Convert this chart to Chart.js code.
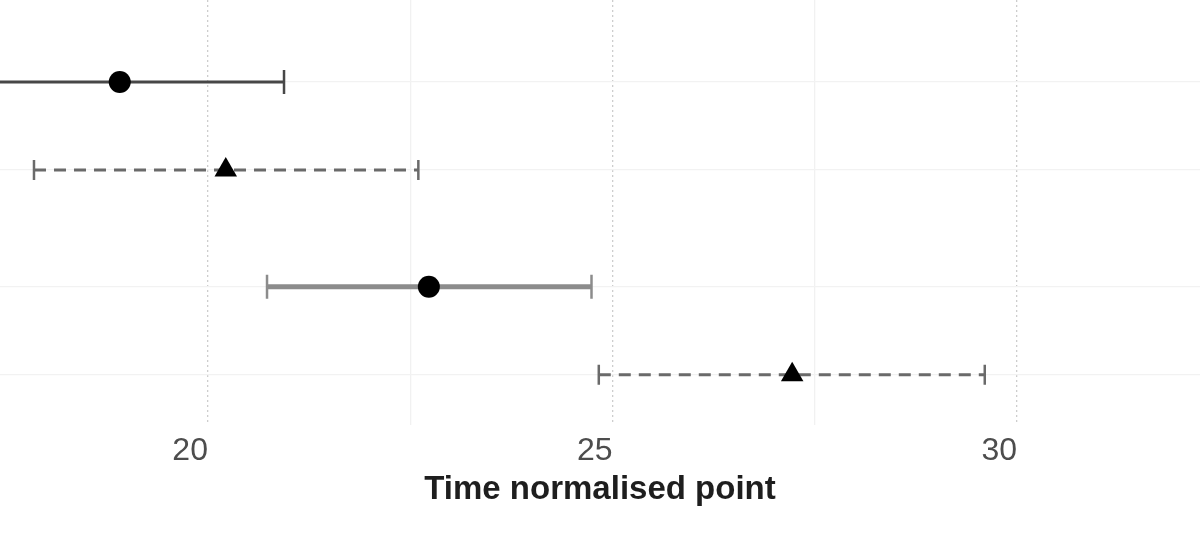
<!DOCTYPE html>
<html>
<head>
<meta charset="utf-8">
<script src="https://cdn.jsdelivr.net/npm/chart.js@4.4.0/dist/chart.umd.min.js"></script>
<style>
  html, body { margin: 0; padding: 0; background: #fff; }
  #wrap { width: 1200px; height: 543px; }
</style>
</head>
<body>
<div id="wrap"><canvas id="chart"></canvas></div>
<script>
// one row per estimate, top to bottom
var rowY = [2.215, 1.785, 1.215, 0.785];
var estimate = [18.91, 20.22, 22.73, 27.22];
var lower = [16.9, 17.85, 20.73, 24.83];
var upper = [20.94, 22.6, 24.74, 29.6];
var lineType = ["solid", "dashed", "solid", "dashed"];

var xTicks = [20, 22.5, 25, 27.5, 30];
var xLabels = { 20: "20", 25: "25", 30: "30" };

var rowStyle = {
  solid: { dash: [], cap: 12, marker: "circle", radius: 11 },
  dashed: { dash: [12, 8], cap: 10, marker: "triangle", radius: 13 },
};
var rowColor = ["#474747", "#6a6a6a", "#8c8c8c", "#6a6a6a"];
var rowWidth = [3, 3, 5, 3];

// whiskers drawn under the points, positioned via the chart scales
var errorBars = {
  id: "errorBars",
  beforeDatasetsDraw: function (chart) {
    var ctx = chart.ctx;
    var xs = chart.scales.x;
    var ys = chart.scales.y;
    var area = chart.chartArea;
    ctx.save();
    ctx.beginPath();
    ctx.rect(area.left, area.top, area.right - area.left, area.bottom - area.top);
    ctx.clip();
    for (var i = 0; i < rowY.length; i++) {
      var st = rowStyle[lineType[i]];
      var y = ys.getPixelForValue(rowY[i]);
      var x0 = xs.getPixelForValue(lower[i]);
      var x1 = xs.getPixelForValue(upper[i]);
      ctx.strokeStyle = rowColor[i];
      ctx.lineWidth = rowWidth[i];
      ctx.setLineDash(st.dash);
      ctx.beginPath();
      ctx.moveTo(x0, y);
      ctx.lineTo(x1, y);
      ctx.stroke();
      ctx.setLineDash([]);
      ctx.lineWidth = 2.5;
      ctx.beginPath();
      ctx.moveTo(x0, y - st.cap);
      ctx.lineTo(x0, y + st.cap);
      ctx.moveTo(x1, y - st.cap);
      ctx.lineTo(x1, y + st.cap);
      ctx.stroke();
    }
    ctx.restore();
  },
};

var points = estimate.map(function (v, i) {
  return { x: v, y: rowY[i] };
});

var ctx = document.getElementById("chart").getContext("2d");
window.chart = new Chart(ctx, {
  type: "scatter",
  data: {
    datasets: [
      {
        data: points,
        pointStyle: lineType.map(function (t) { return rowStyle[t].marker; }),
        pointRadius: lineType.map(function (t) { return rowStyle[t].radius; }),
        backgroundColor: "#000",
        borderColor: "#000",
        borderWidth: 0,
        clip: false,
      },
    ],
  },
  plugins: [errorBars],
  options: {
    responsive: true,
    maintainAspectRatio: false,
    animation: false,
    layout: { autoPadding: false, padding: { left: 0, right: 0, top: 0, bottom: 33 } },
    plugins: { legend: { display: false }, tooltip: { enabled: false } },
    scales: {
      x: {
        type: "linear",
        min: 17.43,
        max: 32.26,
        afterBuildTicks: function (scale) {
          scale.ticks = xTicks.map(function (v) { return { value: v }; });
        },
        ticks: {
          autoSkip: false,
          maxRotation: 0,
          align: "end",
          padding: 10,
          color: "#4d4d4d",
          font: { family: "Liberation Sans", size: 32, lineHeight: 1.0 },
          callback: function (value) {
            return xLabels[value] || "";
          },
        },
        grid: {
          drawTicks: false,
          lineWidth: 1.3,
          color: function (c) {
            return c.tick && c.tick.value % 5 === 0 ? "#cdcdcd" : "#f1f1f1";
          },
        },
        border: {
          display: false,
          dash: function (c) {
            return c.tick && c.tick.value % 5 === 0 ? [2, 3] : [];
          },
        },
        title: {
          display: true,
          text: "Time normalised point",
          color: "#1e1e1e",
          font: { family: "Liberation Sans", size: 33, weight: "bold" },
          padding: { top: -7, bottom: 0 },
        },
      },
      y: {
        type: "linear",
        min: 0.538,
        max: 2.616,
        afterBuildTicks: function (scale) {
          scale.ticks = rowY.map(function (v) { return { value: v }; });
        },
        afterFit: function (scale) {
          scale.width = 0;
        },
        ticks: { display: false },
        grid: { drawTicks: false, color: "#f2f2f2", lineWidth: 1.3 },
        border: { display: false },
      },
    },
  },
});
</script>
</body>
</html>
